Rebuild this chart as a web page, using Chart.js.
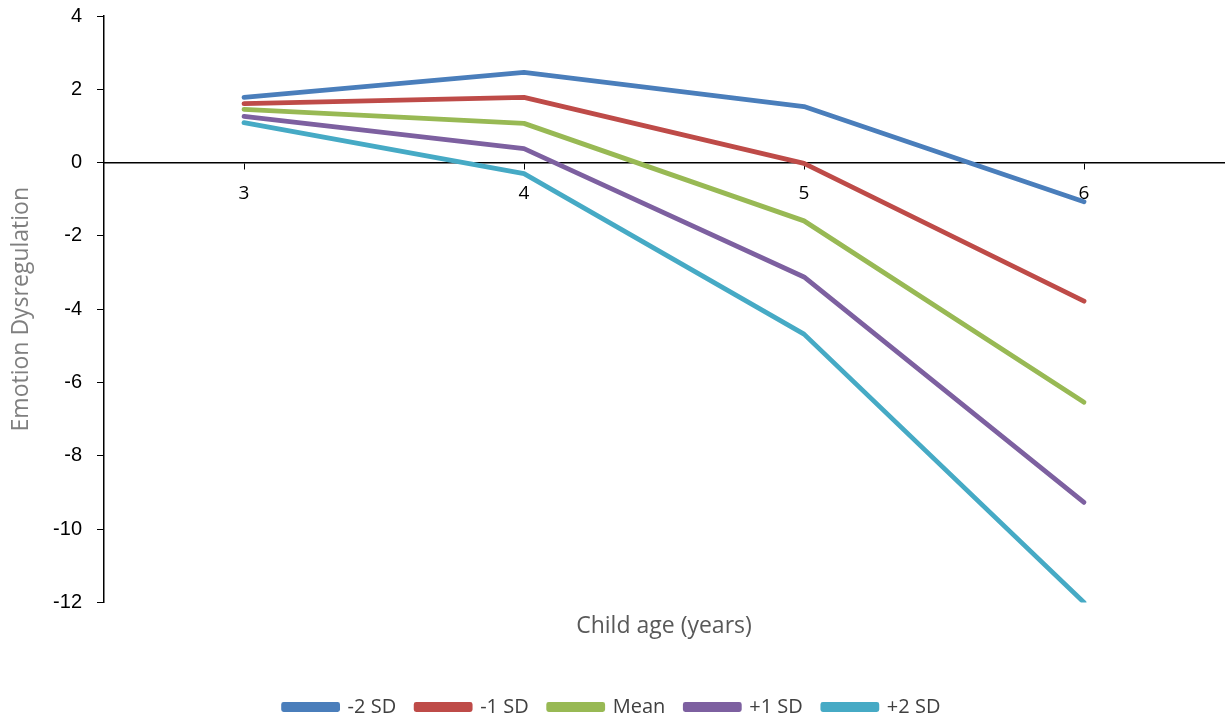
<!DOCTYPE html>
<html lang="en">
<head>
    <meta charset="UTF-8">
    <title>Emotion Dysregulation by child age</title>
    <script src="https://cdn.jsdelivr.net/npm/chart.js"></script>
    <style>
        body { margin: 0; background: #fff; }
        #wrap { width: 1227px; height: 725px; }
    </style>
</head>
<body>
    <div id="wrap">
        <canvas id="myChart" width="1227" height="725"></canvas>
    </div>
    <script>
        // data
        const ages = ['3', '4', '5', '6'];
        const minus2sd = [1.78, 2.46, 1.53, -1.07];
        const minus1sd = [1.61, 1.78, -0.02, -3.78];
        const meanLine = [1.45, 1.07, -1.59, -6.54];
        const plus1sd = [1.26, 0.38, -3.12, -9.27];
        const plus2sd = [1.09, -0.30, -4.68, -12.0];
        const seriesNames = ['-2 SD', '-1 SD', 'Mean', '+1 SD', '+2 SD'];
        const colors = ['#4a7ebb', '#be4b48', '#98b954', '#7d60a0', '#46aac5'];

        const ctx = document.getElementById('myChart');

        const datasets = [minus2sd, minus1sd, meanLine, plus1sd, plus2sd].map((vals, i) => ({
            label: seriesNames[i],
            data: vals,
            borderColor: colors[i],
            backgroundColor: colors[i],
            borderWidth: 4.8,
            borderCapStyle: 'round',
            borderJoinStyle: 'round',
            pointRadius: 0,
            tension: 0
        }));

        new Chart(ctx, {
            type: 'line',
            data: { labels: ages, datasets: datasets },
            options: {
                responsive: false,
                animation: false,
                layout: { padding: { left: 0, right: 3, top: 16, bottom: -2 } },
                plugins: {
                    legend: {
                        position: 'bottom',
                        weight: 3000,
                        labels: {
                            boxWidth: 54,
                            boxHeight: 5,
                            padding: 20,
                            color: '#404040',
                            font: { family: 'Open Sans', size: 20 }
                        }
                    },
                    title: {
                        display: true,
                        text: 'Child age (years)',
                        position: 'bottom',
                        fullSize: false,
                        color: '#595959',
                        font: { family: 'Open Sans', size: 23, weight: 'normal' },
                        padding: { top: 10, bottom: 37 }
                    },
                    tooltip: { enabled: false }
                },
                scales: {
                    x: {
                        position: { y: 0 },
                        offset: true,
                        afterFit: (scale) => {
                            scale.height = 0;
                            scale.paddingLeft = 0;
                            scale.paddingRight = 0;
                        },
                        grid: { offset: false, drawOnChartArea: false, tickLength: 6, color: '#000' },
                        border: { color: '#000', width: 1.5 },
                        ticks: {
                            padding: 14,
                            color: '#000',
                            maxRotation: 0,
                            font: { family: 'Open Sans', size: 19 }
                        }
                    },
                    y: {
                        min: -12,
                        max: 4,
                        afterFit: (scale) => {
                            scale.width = 104;
                            scale.paddingTop = 0;
                            scale.paddingBottom = 0;
                        },
                        grid: { drawOnChartArea: false, tickLength: 7, color: '#000' },
                        border: { color: '#000', width: 1.5 },
                        ticks: {
                            stepSize: 2,
                            padding: 15,
                            color: '#000',
                            font: { family: 'Liberation Sans', size: 20 }
                        },
                        title: {
                            display: true,
                            text: 'Emotion Dysregulation',
                            color: '#7f7f7f',
                            padding: { top: 8, bottom: 0 },
                            font: { family: 'Open Sans', size: 23 }
                        }
                    }
                }
            }
        });
    </script>
</body>
</html>
